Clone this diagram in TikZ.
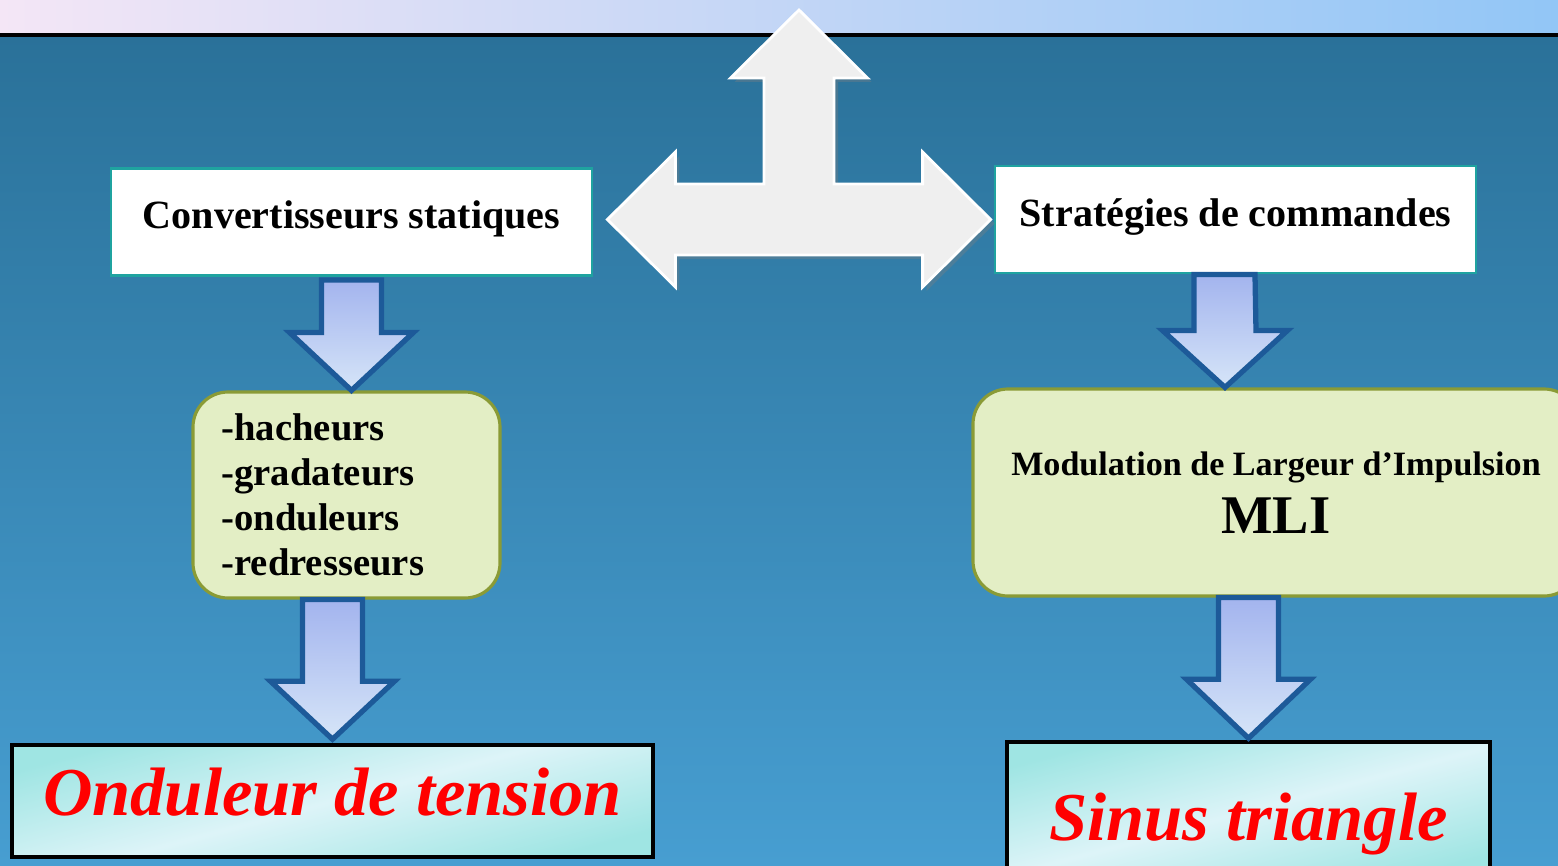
\documentclass[tikz,border=0pt]{standalone}
\usepackage{fontspec}
\setmainfont{Liberation Serif}
\usepackage{xcolor}
\usepackage{tikz}
\usetikzlibrary{positioning, calc, shadows}

\definecolor{skytop}{HTML}{2A7199}
\definecolor{skybot}{HTML}{479ED1}
\definecolor{stripL}{HTML}{F4E6F6}
\definecolor{stripR}{HTML}{92C6F6}
\definecolor{tealline}{HTML}{1FA3A0}
\definecolor{paleolive}{HTML}{E3EEC5}
\definecolor{oliveline}{HTML}{8A9B36}
\definecolor{arrowtop}{HTML}{A3B4EE}
\definecolor{arrowbot}{HTML}{D6E5F8}
\definecolor{arrowline}{HTML}{1D5A99}
\definecolor{cyanA}{HTML}{9FE5E3}
\definecolor{cyanB}{HTML}{DDF4F8}
\definecolor{bigarrowgray}{HTML}{EFEFEF}

\begin{document}
\begin{tikzpicture}[
    whitebox/.style={draw=tealline, line width=0.8pt, fill=white, minimum width=4.81cm, minimum height=1.07cm, text depth=0.14cm, font=\fontsize{11.4}{13}\selectfont\bfseries},
    listbox/.style={draw=oliveline, line width=0.9pt, fill=paleolive, rounded corners=0.35cm},
    resbox/.style={draw=black, line width=1pt, top color=cyanA, bottom color=cyanA, middle color=cyanB, shading angle=15, text=red, font=\fontsize{19.5}{22}\selectfont\bfseries\itshape},
    blockarrow/.style={draw=arrowline, line width=1.5pt, top color=arrowtop, bottom color=arrowbot, line join=miter},
    bigarrow/.style={draw=white, line width=0.8pt, fill=bigarrowgray, drop shadow={opacity=0.35, shadow xshift=0.04cm, shadow yshift=-0.04cm}},
]
\useasboundingbox (0,0) rectangle (15.58,-8.66);
% background
\fill[left color=stripL, right color=stripR] (0,0) rectangle (15.58,-0.35);
\fill[top color=skytop, bottom color=skybot] (0,-0.35) rectangle (15.58,-8.66);
\draw[line width=1pt] (0,-0.35) -- (15.58,-0.35);

% boxes
\node[whitebox] (conv) at (3.515,-2.22) {Convertisseurs statiques};
\node[whitebox] (strat) at (12.355,-2.195) {Stratégies de commandes};
\node[listbox, minimum width=3.07cm, minimum height=2.06cm, text width=2.5cm, inner xsep=0.285cm, align=left,
      font=\fontsize{11}{12.8}\selectfont\bfseries] (hach) at (3.465,-4.95)
      {-hacheurs\\-gradateurs\\-onduleurs\\-redresseurs};
\node[listbox, minimum width=6.06cm, minimum height=2.07cm, align=center,
      font=\fontsize{9.7}{16.5}\selectfont\bfseries] (mli) at (12.76,-4.925)
      {Modulation de Largeur d’Impulsion\\{\fontsize{15.5}{16.5}\selectfont MLI}};
\node[resbox, minimum width=6.41cm, minimum height=1.12cm, text depth=0.19cm] (ond) at (3.325,-8.01) {Onduleur de tension};
\node[resbox, minimum width=4.83cm, minimum height=1.38cm, text height=0.78cm, text depth=0.2cm] (sin) at (12.485,-8.11) {Sinus triangle};

% three-way arrow
\coordinate (up) at (7.99,-0.10);
\coordinate (rt) at ($(strat.west)+(-0.03,0)$);
\coordinate (lt) at ($(conv.east |- strat.west)+(0.14,0)$);
\draw[bigarrow] (up) -- ++(0.685,-0.68) -- ++(-0.335,0) |- ($(rt)+(-0.68,0.355)$) -- ++(0,0.32) -- (rt)
    -- ++(-0.68,-0.675) -- ++(0,0.32) -- ($(lt)+(0.68,-0.355)$) -- ++(0,-0.32) -- (lt)
    -- ++(0.68,0.675) -- ++(0,-0.32) -| ($(up)+(-0.35,-0.68)$) -- ++(-0.335,0) -- cycle;

% down arrows
\draw[blockarrow] ($(conv.south)+(-0.3,-0.03)$) -- ($(conv.south |- hach.north)+(-0.3,0.58)$) -- ++(-0.32,0)
    -- (conv.south |- hach.north) -- ++(0.62,0.58) -- ++(-0.32,0) -- ($(conv.south)+(0.3,-0.03)$) -- cycle;
\draw[blockarrow] ($(ond.north |- hach.south)+(-0.3,0)$) -- ($(ond.north)+(-0.3,0.62)$) -- ++(-0.32,0)
    -- ($(ond.north)+(0,0.04)$) -- ++(0.62,0.58) -- ++(-0.32,0) -- ($(ond.north |- hach.south)+(0.3,0)$) -- cycle;
\draw[blockarrow] ($(strat.south)+(-0.415,0)$) -- ($(strat.south |- mli.north)+(-0.415,0.57)$) -- ++(-0.315,0)
    -- ($(strat.south |- mli.north)+(-0.105,0)$) -- ++(0.625,0.57) -- ++(-0.315,0) -- ($(strat.south)+(0.195,0)$) -- cycle;
\draw[blockarrow] ($(sin.north |- mli.south)+(-0.3,0)$) -- ($(sin.north)+(-0.3,0.61)$) -- ++(-0.32,0)
    -- ($(sin.north)+(0,0.02)$) -- ++(0.62,0.59) -- ++(-0.32,0) -- ($(sin.north |- mli.south)+(0.3,0)$) -- cycle;
\end{tikzpicture}
\end{document}
